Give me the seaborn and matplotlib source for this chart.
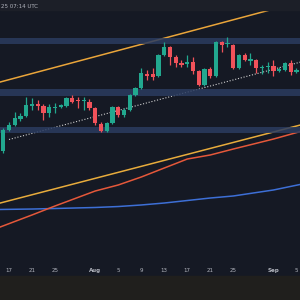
import pandas as pd
import matplotlib
matplotlib.use("Agg")
import matplotlib.pyplot as plt
import matplotlib.dates as mdates
from matplotlib.patches import Rectangle
import seaborn as sns

# daily candles, Jul 16 - Sep 5 2025
dates = pd.date_range("2025-07-16", "2025-09-05", freq="D")
opens = [3035, 3388, 3475, 3572, 3623, 3791, 3824, 3791, 3673, 3757,
         3774, 3791, 3925, 3892, 3875, 3858, 3757, 3488, 3371, 3505,
         3774, 3640, 3724, 3976, 4093, 4328, 4328, 4295, 4648, 4782,
         4614, 4513, 4496, 4530, 4379, 4144, 4412, 4295, 4866, 4832,
         4816, 4429, 4648, 4547, 4564, 4429, 4446, 4463, 4379, 4396,
         4513, 4362]
highs = [3421, 3522, 3690, 3673, 3942, 3925, 3892, 3824, 3824, 3841,
         3824, 3942, 3976, 3942, 3942, 3908, 3774, 3522, 3522, 3791,
         3791, 3757, 3992, 4110, 4429, 4396, 4429, 4664, 4866, 4799,
         4648, 4564, 4648, 4614, 4396, 4429, 4446, 4883, 4883, 4950,
         4832, 4664, 4681, 4681, 4580, 4480, 4530, 4564, 4446, 4530,
         4564, 4429]
lows = [3000, 3371, 3455, 3539, 3606, 3724, 3724, 3556, 3606, 3673,
        3757, 3774, 3841, 3757, 3724, 3724, 3472, 3354, 3354, 3488,
        3606, 3606, 3707, 3959, 4076, 4228, 4228, 4278, 4631, 4480,
        4446, 4446, 4446, 4328, 4127, 4127, 4261, 4278, 4698, 4782,
        4412, 4412, 4547, 4480, 4345, 4328, 4345, 4295, 4362, 4379,
        4312, 4345]
closes = [3388, 3472, 3589, 3623, 3808, 3824, 3791, 3673, 3774, 3774,
          3808, 3925, 3858, 3875, 3892, 3757, 3505, 3371, 3505, 3774,
          3640, 3724, 3976, 4093, 4345, 4295, 4278, 4648, 4782, 4614,
          4513, 4480, 4530, 4379, 4144, 4412, 4295, 4866, 4816, 4849,
          4429, 4648, 4564, 4580, 4429, 4446, 4463, 4379, 4412, 4513,
          4362, 4396]

# support / resistance zones (low, high)
zones = [(4830, 4935), (3960, 4075), (3337, 3438)]

# moving averages
ma_dates = pd.to_datetime(["2025-07-15", "2025-07-21", "2025-07-25", "2025-08-01",
                           "2025-08-05", "2025-08-09", "2025-08-13", "2025-08-17",
                           "2025-08-21", "2025-08-25", "2025-09-01", "2025-09-06"])
ma_100 = [1741, 1960, 2111, 2363, 2464, 2598, 2749, 2900, 2968, 3068, 3236, 3371]
ma_200 = [2052, 2060, 2069, 2086, 2102, 2128, 2161, 2203, 2245, 2279, 2380, 2480]

# trendlines
upper_dates = pd.to_datetime(["2025-07-15", "2025-09-01"])
upper_line = [4182, 5420]
mid_dates = pd.to_datetime(["2025-07-17", "2025-09-06"])
mid_line = [3228, 4537]
lower_dates = pd.to_datetime(["2025-07-15", "2025-09-06"])
lower_line = [2149, 3480]

tick_dates = pd.to_datetime(["2025-07-17", "2025-07-21", "2025-07-25", "2025-08-01",
                             "2025-08-05", "2025-08-09", "2025-08-13", "2025-08-17",
                             "2025-08-21", "2025-08-25", "2025-09-01", "2025-09-05"])
tick_labels = ["17", "21", "25", "Aug", "5", "9", "13", "17", "21", "25", "Sep", "5"]

bg = "#151924"
up_col = "#22a88f"
down_col = "#f0525a"

sns.set_style("dark", {"axes.facecolor": bg, "figure.facecolor": bg})

fig = plt.figure(figsize=(3, 3), dpi=100, facecolor=bg)
ax = fig.add_axes([0, 38 / 300, 1, 252 / 300])
ax.set_facecolor(bg)

# lines
sns.lineplot(x=ma_dates, y=ma_200, ax=ax, color="#3d6fd6", lw=1.1, zorder=2)
sns.lineplot(x=ma_dates, y=ma_100, ax=ax, color="#e5583a", lw=1.1, zorder=2)
ax.plot(lower_dates, lower_line, color="#e8ac3c", lw=1.1, zorder=2)
ax.plot(upper_dates, upper_line, color="#eaa53a", lw=1.1, zorder=2)
ax.plot(mid_dates, mid_line, color="#cfcfcf", lw=0.8, ls=(0, (1, 1.6)), zorder=2)

for lo, hi in zones:
    ax.axhspan(lo, hi, color="#2b3c60", alpha=0.85, lw=0, zorder=2.5)

# candles
cols = [up_col if c >= o else down_col for o, c in zip(opens, closes)]
bottoms = [min(o, c) for o, c in zip(opens, closes)]
heights = [max(abs(c - o), 14) for o, c in zip(opens, closes)]
ax.vlines(dates, lows, highs, colors=cols, lw=0.9, zorder=3)
ax.bar(dates, heights, bottom=bottoms, width=0.72, color=cols, lw=0, zorder=4)

start = mdates.date2num(pd.Timestamp("2025-07-17"))
ax.set_xlim(start - 1.565, start + 50.61)
ax.set_ylim(1170, 5404)

ax.set_xticks(tick_dates)
ax.set_xticklabels(tick_labels)
ax.tick_params(axis="x", length=0, pad=4.6, labelsize=4, labelcolor="#b2b5be")
for lab in ax.get_xticklabels():
    if lab.get_text() in ("Aug", "Sep"):
        lab.set_fontweight("bold")
ax.set_yticks([])
ax.set_xlabel("")
ax.set_ylabel("")
ax.grid(False)
for s in ax.spines.values():
    s.set_visible(False)

# header and footer strips
fig.patches.append(Rectangle((0, 1 - 10 / 300), 1, 10 / 300, transform=fig.transFigure,
                             color="#1c1f28", zorder=1))
fig.patches.append(Rectangle((0, 0), 1, 24 / 300, transform=fig.transFigure,
                             color="#201f1d", zorder=1))
fig.text(1 / 300, 1 - 6 / 300, "25 07:14 UTC", ha="left", va="center",
         fontsize=4, color="#b2b5be", zorder=2)

fig.savefig("out.png", dpi=100, facecolor=bg)
